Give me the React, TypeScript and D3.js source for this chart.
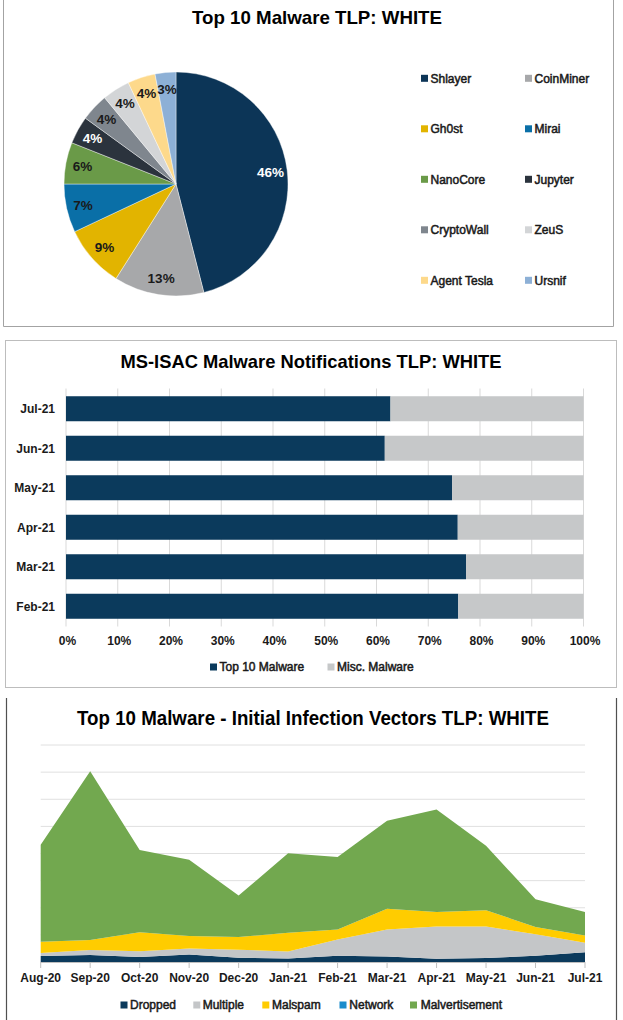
import React from 'react';
import * as d3 from 'd3';

const FONT = "'Liberation Sans', Arial, Helvetica, sans-serif";

// ---- Top 10 Malware (pie) ----
const pieNames = ['Shlayer', 'CoinMiner', 'Gh0st', 'Mirai', 'NanoCore', 'Jupyter', 'CryptoWall', 'ZeuS', 'Agent Tesla', 'Ursnif'];
const pieValues = [46, 13, 9, 7, 6, 4, 4, 4, 4, 3];
const pieColors = ['#0c3557', '#a7a8aa', '#e2b400', '#0a6fa7', '#6a9a48', '#2b333d', '#7f868e', '#d3d5d7', '#fdd98b', '#8db0d6'];
const pieLabelColors = ['#ffffff', '#1a1a1a', '#1a1a1a', '#1a1a1a', '#1a1a1a', '#ffffff', '#1a1a1a', '#1a1a1a', '#1a1a1a', '#1a1a1a'];

// ---- MS-ISAC Malware Notifications (stacked 100% bars) ----
const barMonths = ['Feb-21', 'Mar-21', 'Apr-21', 'May-21', 'Jun-21', 'Jul-21'];
const top10Share = [75.8, 77.3, 75.7, 74.6, 61.6, 62.7];
const miscShare = [24.2, 22.7, 24.3, 25.4, 38.4, 37.3];
const barTicks = [0, 10, 20, 30, 40, 50, 60, 70, 80, 90, 100];
const barSeries = ['Top 10 Malware', 'Misc. Malware'];
const barColors = ['#0b3a5c', '#c6c8c9'];

// ---- Initial Infection Vectors (stacked area) ----
const areaMonths = ['Aug-20', 'Sep-20', 'Oct-20', 'Nov-20', 'Dec-20', 'Jan-21', 'Feb-21', 'Mar-21', 'Apr-21', 'May-21', 'Jun-21', 'Jul-21'];
const dropped = [2.2, 2.6, 1.8, 2.8, 1.6, 1.3, 2.3, 2.0, 1.2, 1.5, 2.3, 3.6];
const multiple = [1.1, 1.8, 2.2, 2.2, 2.9, 2.6, 6.0, 10.0, 11.9, 11.6, 7.9, 3.5];
const malspam = [4.2, 3.7, 7.0, 4.6, 4.7, 6.9, 3.7, 7.6, 5.3, 6.0, 2.7, 2.7];
const network = [0, 0, 0, 0, 0, 0, 0, 0, 0, 0, 0, 0];
const malvertisement = [35.7, 62.2, 30.3, 28.1, 15.3, 29.3, 26.7, 32.5, 37.8, 23.8, 10.2, 8.6];
const areaKeys = ['Dropped', 'Multiple', 'Malspam', 'Network', 'Malvertisement'];
const areaColors = ['#0b3a5c', '#c4c6c8', '#ffcc00', '#1a8ccc', '#72a84f'];
const areaGrid = [10, 20, 30, 40, 50, 60, 70, 80];

export default function App() {
  // pie geometry
  const cx = 176, cy = 184, r = 112;
  const arcs = d3.pie<number>().sort(null).value((d) => d)(pieValues);
  const arcGen = d3.arc<d3.PieArcDatum<number>>().innerRadius(0).outerRadius(r);
  const labelArc = d3.arc<d3.PieArcDatum<number>>().innerRadius(r * 0.85).outerRadius(r * 0.85);
  const legendCols = [421, 525];
  const legendY = d3.scalePoint<number>().domain([0, 1, 2, 3, 4]).range([78.3, 280.3]);

  // bar geometry
  const bx = d3.scaleLinear().domain([0, 100]).range([66, 583.5]);
  const by = d3.scaleBand<string>().domain([...barMonths].reverse()).range([388.5, 626.5]).paddingInner(0.367).paddingOuter(0.196);

  // area geometry
  const ax = d3.scalePoint<string>().domain(areaMonths).range([40.7, 585]);
  const ay = d3.scaleLinear().domain([0, 80]).range([962, 745]);
  const rows = areaMonths.map((m, i) => ({
    month: m,
    Dropped: dropped[i],
    Multiple: multiple[i],
    Malspam: malspam[i],
    Network: network[i],
    Malvertisement: malvertisement[i],
  }));
  const stacked = d3.stack<any>().keys(areaKeys)(rows);
  const areaGen = d3
    .area<any>()
    .x((d) => ax(d.data.month) as number)
    .y0((d) => ay(d[0]))
    .y1((d) => ay(d[1]));

  const areaLegend = [
    { m: 120.5, t: 130 },
    { m: 193.3, t: 202.7 },
    { m: 262.3, t: 272 },
    { m: 339.5, t: 349.3 },
    { m: 410, t: 420.7 },
  ];

  const legendStroke = 0.5;

  return (
    <svg width={623} height={1020} style={{ position: 'absolute', left: 0, top: 0 }} fontFamily={FONT}>
      <rect x={0} y={0} width={623} height={1020} fill="#ffffff" />

      {/* ===== Panel 1 ===== */}
      <path d="M3.5,0 V326.5 H613.5 V0" fill="none" stroke="#a3a3a3" strokeWidth={1} />
      <text x={317} y={23.6} textAnchor="middle" fontSize={19} fontWeight="bold" fill="#000" textLength={250} lengthAdjust="spacingAndGlyphs">
        Top 10 Malware TLP: WHITE
      </text>
      <g transform={`translate(${cx},${cy})`}>
        {arcs.map((a, i) => (
          <path key={i} d={arcGen(a) as string} fill={pieColors[i]} stroke="#ffffff" strokeWidth={0.4} />
        ))}
        {arcs.map((a, i) => {
          const [lx, ly] = labelArc.centroid(a);
          return (
            <text key={'l' + i} x={lx} y={ly} dy="0.36em" textAnchor="middle" fontSize={13.5} fontWeight="bold" fill={pieLabelColors[i]}>
              {pieValues[i]}%
            </text>
          );
        })}
      </g>
      {pieNames.map((n, i) => {
        const col = i % 2;
        const row = Math.floor(i / 2);
        const y = legendY(row) as number;
        return (
          <g key={n}>
            <rect x={legendCols[col]} y={y - 3.5} width={7} height={7} fill={pieColors[i]} />
            <text x={legendCols[col] + 9.5} y={y} dy="0.36em" fontSize={12} fill="#1a1a1a" stroke="#1a1a1a" strokeWidth={legendStroke}>
              {n}
            </text>
          </g>
        );
      })}

      {/* ===== Panel 2 ===== */}
      <rect x={5.5} y={340.5} width={611} height={347} fill="none" stroke="#bdbdbd" strokeWidth={1} />
      <text x={311} y={367.6} textAnchor="middle" fontSize={19} fontWeight="bold" fill="#000" textLength={381} lengthAdjust="spacingAndGlyphs">
        MS-ISAC Malware Notifications TLP: WHITE
      </text>
      {barTicks.map((t) => (
        <line key={t} x1={bx(t)} x2={bx(t)} y1={388.5} y2={626.5} stroke="#d9d9d9" strokeWidth={1} />
      ))}
      {barMonths.map((m, i) => (
        <g key={m}>
          <rect x={bx(0)} y={by(m)} width={bx(top10Share[i]) - bx(0)} height={by.bandwidth()} fill={barColors[0]} />
          <rect x={bx(top10Share[i])} y={by(m)} width={bx(top10Share[i] + miscShare[i]) - bx(top10Share[i])} height={by.bandwidth()} fill={barColors[1]} />
          <text x={55} y={(by(m) as number) + by.bandwidth() / 2} dy="0.36em" textAnchor="end" fontSize={12} fontWeight="bold" fill="#1a1a1a">
            {m}
          </text>
        </g>
      ))}
      {barTicks.map((t) => (
        <text key={'t' + t} x={bx(t) + 1.5} y={644.7} textAnchor="middle" fontSize={12} fontWeight="bold" fill="#1a1a1a">
          {t}%
        </text>
      ))}
      {barSeries.map((s, i) => {
        const mx = [210, 327.5][i];
        return (
          <g key={s}>
            <rect x={mx} y={663.5} width={7} height={7} fill={barColors[i]} />
            <text x={mx + 9.5} y={667} dy="0.36em" fontSize={12} fill="#1a1a1a" stroke="#1a1a1a" strokeWidth={legendStroke}>
              {s}
            </text>
          </g>
        );
      })}

      {/* ===== Panel 3 ===== */}
      <line x1={6.5} x2={6.5} y1={698} y2={1020} stroke="#505050" strokeWidth={1.2} />
      <line x1={616.5} x2={616.5} y1={698} y2={1020} stroke="#505050" strokeWidth={1.2} />
      <text x={313} y={725} textAnchor="middle" fontSize={19.5} fontWeight="bold" fill="#000" textLength={472} lengthAdjust="spacingAndGlyphs">
        Top 10 Malware - Initial Infection Vectors TLP: WHITE
      </text>
      {areaGrid.map((g) => (
        <line key={g} x1={40.7} x2={585} y1={ay(g)} y2={ay(g)} stroke="#e0e0e0" strokeWidth={1} />
      ))}
      {stacked.map((s, i) => (
        <path key={s.key} d={areaGen(s as any) as string} fill={areaColors[i]} />
      ))}
      <line x1={40.7} x2={585} y1={ay(0) + 0.5} y2={ay(0) + 0.5} stroke="#bfbfbf" strokeWidth={1} />
      {areaMonths.map((m) => (
        <line key={'tk' + m} x1={ax(m)} x2={ax(m)} y1={ay(0)} y2={ay(0) + 6} stroke="#bfbfbf" strokeWidth={1} />
      ))}
      {areaMonths.map((m) => (
        <text key={'x' + m} x={ax(m)} y={981.8} textAnchor="middle" fontSize={12} fontWeight="bold" fill="#1a1a1a">
          {m}
        </text>
      ))}
      {areaKeys.map((k, i) => (
        <g key={'lg' + k}>
          <rect x={areaLegend[i].m} y={1001.5} width={7} height={7} fill={areaColors[i]} />
          <text x={areaLegend[i].t} y={1005} dy="0.36em" fontSize={12} fill="#1a1a1a" stroke="#1a1a1a" strokeWidth={legendStroke}>
            {k}
          </text>
        </g>
      ))}
    </svg>
  );
}
